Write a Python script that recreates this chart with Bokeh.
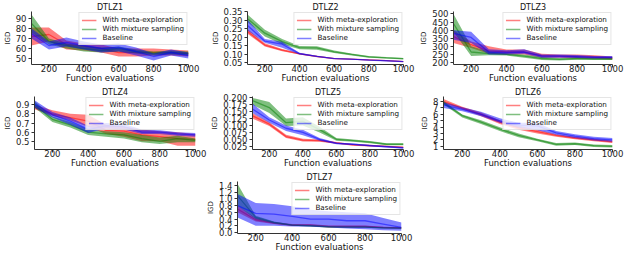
from bokeh.plotting import figure
from bokeh.layouts import column, row
from bokeh.models import Range1d, FixedTicker, Legend, LegendItem, Spacer
from bokeh.embed import file_html
from bokeh.resources import INLINE

evals = [100, 200, 300, 400, 500, 600, 700, 800, 900, 1000]
x_ticks = [200, 400, 600, 800, 1000]
series_names = ["With meta-exploration", "With mixture sampling", "Baseline"]

# DTLZ1
d1_meta_mean = [72, 74, 64, 62, 60, 56, 56, 56, 56, 55]
d1_meta_lo = [63, 67, 59, 58, 56, 52, 52, 53, 53, 52]
d1_meta_hi = [81, 81, 68, 65, 64, 60, 60, 60, 59, 58]
d1_mix_mean = [85, 67, 63, 60, 58, 60, 57, 55, 56, 55]
d1_mix_lo = [76, 64, 60, 57, 56, 57, 55, 53, 54, 53]
d1_mix_hi = [94, 70, 65, 63, 61, 62, 59, 57, 58, 57]
d1_base_mean = [75, 63, 66, 63, 60, 61, 57, 52, 56, 53]
d1_base_lo = [70, 59, 62, 59, 56, 57, 53, 48, 53, 50]
d1_base_hi = [80, 67, 71, 67, 64, 65, 61, 55, 59, 56]
d1_yticks = [50, 60, 70, 80, 90]
d1_ylabels = ["50", "60", "70", "80", "90"]

# DTLZ2
d2_meta_mean = [0.235, 0.155, 0.125, 0.103, 0.088, 0.076, 0.072, 0.068, 0.064, 0.058]
d2_meta_lo = [0.222, 0.147, 0.119, 0.099, 0.085, 0.073, 0.069, 0.065, 0.061, 0.055]
d2_meta_hi = [0.250, 0.165, 0.132, 0.108, 0.092, 0.079, 0.075, 0.071, 0.067, 0.061]
d2_mix_mean = [0.310, 0.225, 0.175, 0.140, 0.138, 0.115, 0.100, 0.086, 0.080, 0.075]
d2_mix_lo = [0.290, 0.205, 0.160, 0.130, 0.128, 0.108, 0.094, 0.081, 0.076, 0.071]
d2_mix_hi = [0.335, 0.245, 0.190, 0.150, 0.148, 0.123, 0.106, 0.091, 0.085, 0.079]
d2_base_mean = [0.270, 0.178, 0.160, 0.105, 0.089, 0.076, 0.072, 0.067, 0.063, 0.058]
d2_base_lo = [0.240, 0.168, 0.140, 0.100, 0.085, 0.073, 0.069, 0.064, 0.060, 0.055]
d2_base_hi = [0.305, 0.190, 0.175, 0.110, 0.093, 0.079, 0.075, 0.070, 0.066, 0.061]
d2_yticks = [0.05, 0.10, 0.15, 0.20, 0.25, 0.30, 0.35]
d2_ylabels = ["0.05", "0.10", "0.15", "0.20", "0.25", "0.30", "0.35"]

# DTLZ3
d3_meta_mean = [360, 310, 272, 265, 265, 242, 240, 236, 234, 228]
d3_meta_lo = [320, 290, 255, 250, 250, 230, 230, 225, 224, 219]
d3_meta_hi = [400, 330, 300, 280, 280, 255, 250, 250, 245, 238]
d3_mix_mean = [440, 265, 255, 250, 240, 225, 220, 225, 222, 222]
d3_mix_lo = [390, 240, 245, 243, 230, 215, 212, 218, 215, 215]
d3_mix_hi = [500, 300, 268, 258, 250, 235, 228, 232, 230, 230]
d3_base_mean = [380, 355, 265, 262, 265, 240, 240, 237, 232, 232]
d3_base_lo = [340, 320, 250, 250, 255, 230, 230, 228, 225, 225]
d3_base_hi = [400, 390, 282, 276, 282, 250, 250, 246, 240, 240]
d3_yticks = [200, 250, 300, 350, 400, 450, 500]
d3_ylabels = ["200", "250", "300", "350", "400", "450", "500"]

# DTLZ4
d4_meta_mean = [0.87, 0.80, 0.76, 0.72, 0.62, 0.61, 0.57, 0.55, 0.53, 0.52]
d4_meta_lo = [0.85, 0.78, 0.73, 0.66, 0.58, 0.55, 0.50, 0.50, 0.45, 0.45]
d4_meta_hi = [0.90, 0.84, 0.80, 0.79, 0.68, 0.66, 0.63, 0.61, 0.60, 0.58]
d4_mix_mean = [0.90, 0.74, 0.68, 0.60, 0.58, 0.57, 0.53, 0.50, 0.53, 0.51]
d4_mix_lo = [0.87, 0.71, 0.65, 0.57, 0.55, 0.53, 0.49, 0.47, 0.49, 0.49]
d4_mix_hi = [0.94, 0.77, 0.71, 0.63, 0.61, 0.60, 0.57, 0.54, 0.56, 0.53]
d4_base_mean = [0.91, 0.79, 0.72, 0.63, 0.67, 0.66, 0.60, 0.60, 0.58, 0.57]
d4_base_lo = [0.87, 0.76, 0.68, 0.59, 0.64, 0.63, 0.58, 0.58, 0.56, 0.55]
d4_base_hi = [0.95, 0.82, 0.76, 0.67, 0.70, 0.69, 0.63, 0.62, 0.60, 0.59]
d4_yticks = [0.5, 0.6, 0.7, 0.8, 0.9]
d4_ylabels = ["0.5", "0.6", "0.7", "0.8", "0.9"]

# DTLZ5
d5_meta_mean = [0.135, 0.105, 0.060, 0.047, 0.045, 0.037, 0.030, 0.027, 0.024, 0.021]
d5_meta_lo = [0.125, 0.098, 0.055, 0.042, 0.041, 0.034, 0.027, 0.024, 0.021, 0.018]
d5_meta_hi = [0.145, 0.112, 0.066, 0.052, 0.049, 0.040, 0.033, 0.030, 0.027, 0.024]
d5_mix_mean = [0.190, 0.165, 0.110, 0.115, 0.085, 0.050, 0.045, 0.040, 0.032, 0.032]
d5_mix_lo = [0.175, 0.145, 0.098, 0.100, 0.075, 0.045, 0.041, 0.036, 0.028, 0.028]
d5_mix_hi = [0.200, 0.185, 0.125, 0.130, 0.095, 0.055, 0.049, 0.044, 0.036, 0.036]
d5_base_mean = [0.160, 0.120, 0.090, 0.075, 0.050, 0.035, 0.032, 0.027, 0.023, 0.019]
d5_base_lo = [0.145, 0.110, 0.080, 0.065, 0.045, 0.032, 0.029, 0.024, 0.020, 0.016]
d5_base_hi = [0.180, 0.130, 0.100, 0.085, 0.055, 0.038, 0.035, 0.030, 0.026, 0.022]
d5_yticks = [0.025, 0.05, 0.075, 0.1, 0.125, 0.15, 0.175, 0.2]
d5_ylabels = ["0.025", "0.050", "0.075", "0.100", "0.125", "0.150", "0.175", "0.200"]

# DTLZ6
d6_meta_mean = [8.0, 7.0, 6.0, 4.8, 3.9, 3.3, 2.7, 2.3, 2.0, 1.7]
d6_meta_lo = [7.7, 6.8, 5.7, 4.5, 3.6, 3.0, 2.5, 2.1, 1.8, 1.5]
d6_meta_hi = [8.4, 7.2, 6.3, 5.1, 4.2, 3.6, 2.9, 2.5, 2.2, 1.9]
d6_mix_mean = [7.8, 5.8, 4.8, 3.7, 2.7, 2.0, 1.3, 1.4, 1.1, 1.0]
d6_mix_lo = [7.6, 5.5, 4.5, 3.4, 2.4, 1.8, 1.1, 1.2, 0.9, 0.8]
d6_mix_hi = [8.1, 6.0, 5.1, 4.0, 3.0, 2.2, 1.5, 1.6, 1.3, 1.2]
d6_base_mean = [7.5, 6.8, 6.0, 5.0, 4.3, 4.2, 3.1, 2.6, 2.2, 2.0]
d6_base_lo = [7.0, 6.5, 5.7, 4.7, 3.9, 3.5, 2.8, 2.3, 1.9, 1.7]
d6_base_hi = [7.9, 7.1, 6.4, 5.4, 4.7, 4.7, 3.4, 2.9, 2.5, 2.3]
d6_yticks = [1, 2, 3, 4, 5, 6, 7, 8]
d6_ylabels = ["1", "2", "3", "4", "5", "6", "7", "8"]

# DTLZ7
d7_meta_mean = [0.70, 0.38, 0.28, 0.22, 0.22, 0.18, 0.18, 0.18, 0.15, 0.14]
d7_meta_lo = [0.60, 0.33, 0.25, 0.19, 0.19, 0.15, 0.15, 0.15, 0.13, 0.12]
d7_meta_hi = [0.80, 0.43, 0.31, 0.25, 0.25, 0.21, 0.21, 0.21, 0.17, 0.16]
d7_mix_mean = [1.10, 0.45, 0.30, 0.22, 0.20, 0.17, 0.16, 0.16, 0.14, 0.13]
d7_mix_lo = [0.80, 0.40, 0.27, 0.20, 0.18, 0.15, 0.14, 0.14, 0.12, 0.11]
d7_mix_hi = [1.45, 0.50, 0.33, 0.24, 0.22, 0.19, 0.18, 0.18, 0.16, 0.15]
d7_base_mean = [0.80, 0.57, 0.55, 0.48, 0.40, 0.40, 0.35, 0.35, 0.25, 0.15]
d7_base_lo = [0.45, 0.20, 0.20, 0.18, 0.17, 0.15, 0.12, 0.10, 0.07, 0.05]
d7_base_hi = [1.15, 0.88, 0.85, 0.78, 0.68, 0.63, 0.60, 0.57, 0.43, 0.30]
d7_yticks = [0.0, 0.2, 0.4, 0.6, 0.8, 1.0, 1.2, 1.4]
d7_ylabels = ["0.0", "0.2", "0.4", "0.6", "0.8", "1.0", "1.2", "1.4"]

COLORS = ["red", "green", "blue"]
FONT = "DejaVu Sans"
X_LABEL = "Function evaluations"
Y_LABEL = "IGD"


def panel(title, series, yticks, ylabels, yrange, w, h, bl, br):
    p = figure(width=w, height=h, output_backend="svg", toolbar_location=None,
               x_range=Range1d(100, 1000), y_range=Range1d(*yrange),
               min_border_left=bl, min_border_right=br,
               min_border_top=0, min_border_bottom=0,
               background_fill_color="white", border_fill_color="white",
               outline_line_color=None)
    p.grid.visible = False
    p.title.text = title
    p.title.text_font = FONT
    p.title.text_font_size = "8px"
    p.title.text_font_style = "normal"
    p.title.align = "center"
    p.title.standoff = 0
    p.title.text_color = "#111111"

    for ax in (p.xaxis[0], p.yaxis[0]):
        ax.major_label_text_font = FONT
        ax.major_label_text_font_size = "8.5px"
        ax.major_label_text_color = "#222222"
        ax.axis_label_text_font = FONT
        ax.axis_label_text_font_style = "normal"
        ax.axis_label_text_color = "#111111"
        ax.minor_tick_line_color = None
        ax.major_tick_in = 0
        ax.major_tick_out = 3
        ax.axis_line_color = "#333333"
        ax.major_tick_line_color = "#333333"

    p.xaxis.ticker = FixedTicker(ticks=x_ticks)
    p.xaxis.axis_label = X_LABEL
    p.xaxis.axis_label_text_font_size = "8.5px"
    p.xaxis.major_label_standoff = -3
    p.xaxis.axis_label_standoff = -2

    p.yaxis.ticker = FixedTicker(ticks=yticks)
    p.yaxis.major_label_overrides = {t: l for t, l in zip(yticks, ylabels)}
    p.yaxis.axis_label = Y_LABEL
    p.yaxis.axis_label_text_font_size = "7px"
    p.yaxis.major_label_standoff = 2
    p.yaxis.axis_label_standoff = 1

    items = []
    for name, color, (mean, lo, hi) in zip(series_names, COLORS, series):
        p.varea(x=evals, y1=lo, y2=hi, fill_color=color, fill_alpha=0.5)
        r = p.line(evals, mean, line_color=color, line_alpha=0.5, line_width=1.3)
        items.append(LegendItem(label=name, renderers=[r]))

    leg = Legend(items=items, location="top_right")
    leg.label_text_font = FONT
    leg.label_text_font_size = "7.2px"
    leg.label_text_color = "#111111"
    leg.glyph_width = 15
    leg.glyph_height = 6
    leg.label_height = 6
    leg.label_standoff = 6
    leg.spacing = 0
    leg.padding = 2
    leg.margin = 1
    leg.border_line_color = "#cccccc"
    leg.border_line_width = 1
    leg.background_fill_alpha = 0.8
    p.add_layout(leg)
    return p


p1 = panel("DTLZ1", [(d1_meta_mean, d1_meta_lo, d1_meta_hi), (d1_mix_mean, d1_mix_lo, d1_mix_hi),
                     (d1_base_mean, d1_base_lo, d1_base_hi)],
           d1_yticks, d1_ylabels, (44, 97), 208, 85, 25, 20)
p2 = panel("DTLZ2", [(d2_meta_mean, d2_meta_lo, d2_meta_hi), (d2_mix_mean, d2_mix_lo, d2_mix_hi),
                     (d2_base_mean, d2_base_lo, d2_base_hi)],
           d2_yticks, d2_ylabels, (0.041, 0.352), 208, 85, 36, 13)
p3 = panel("DTLZ3", [(d3_meta_mean, d3_meta_lo, d3_meta_hi), (d3_mix_mean, d3_mix_lo, d3_mix_hi),
                     (d3_base_mean, d3_base_lo, d3_base_hi)],
           d3_yticks, d3_ylabels, (188, 515), 208, 85, 37, 12)
p4 = panel("DTLZ4", [(d4_meta_mean, d4_meta_lo, d4_meta_hi), (d4_mix_mean, d4_mix_lo, d4_mix_hi),
                     (d4_base_mean, d4_base_lo, d4_base_hi)],
           d4_yticks, d4_ylabels, (0.41, 0.99), 208, 85, 27, 13)
p5 = panel("DTLZ5", [(d5_meta_mean, d5_meta_lo, d5_meta_hi), (d5_mix_mean, d5_mix_lo, d5_mix_hi),
                     (d5_base_mean, d5_base_lo, d5_base_hi)],
           d5_yticks, d5_ylabels, (0.013, 0.205), 208, 85, 39, 13)
p6 = panel("DTLZ6", [(d6_meta_mean, d6_meta_lo, d6_meta_hi), (d6_mix_mean, d6_mix_lo, d6_mix_hi),
                     (d6_base_mean, d6_base_lo, d6_base_hi)],
           d6_yticks, d6_ylabels, (0.5, 8.8), 208, 85, 27, 12)
p7 = panel("DTLZ7", [(d7_meta_mean, d7_meta_lo, d7_meta_hi), (d7_mix_mean, d7_mix_lo, d7_mix_hi),
                     (d7_base_mean, d7_base_lo, d7_base_hi)],
           d7_yticks, d7_ylabels, (-0.03, 1.52), 232, 84, 45, 23)

layout = column(
    row(p1, p2, p3),
    row(p4, p5, p6),
    row(Spacer(width=192, height=84), p7),
)

open("out.html", "w").write(file_html(layout, INLINE))
